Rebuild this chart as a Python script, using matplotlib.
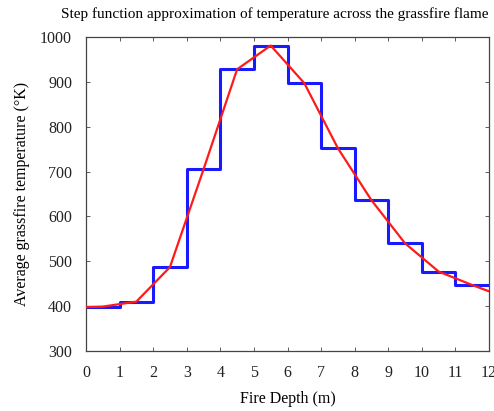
import numpy as np
import matplotlib.pyplot as plt

# step approximation (one value per 1 m slab)
step_edges = [0, 1, 2, 3, 4, 5, 6, 7, 8, 9, 10, 11, 12]
step_temps = [398, 410, 487, 705, 928, 981, 897, 752, 636, 540, 477, 447]

# smooth temperature profile
curve_x = [0, 0.5, 1.5, 2.5, 3.5, 4.5, 5.5, 6.5, 7.5, 8.5, 9.5, 10.5, 11.5, 12]
curve_t = [398, 399, 410, 487, 705, 928, 981, 897, 752, 636, 540, 477, 447, 433]

x_ticks = list(range(0, 13))
y_ticks = [300, 400, 500, 600, 700, 800, 900, 1000]

plt.rcParams['font.family'] = ['Liberation Serif', 'DejaVu Serif']

fig = plt.figure(figsize=(4.94, 4.11), dpi=100)
ax = fig.add_axes([0.174, 0.146, 0.816, 0.764])

ax.step(step_edges, step_temps + [step_temps[-1]], where='post', color='#1a1aff', lw=2.2, zorder=2)
ax.plot(curve_x, curve_t, color='#ff1a1a', lw=1.6, zorder=3)

ax.set_xlim(0, 12)
ax.set_ylim(300, 1000)
ax.set_xticks(x_ticks)
ax.set_yticks(y_ticks)
ax.tick_params(direction='in', length=3, width=0.6, top=True, right=True,
               labelsize=11.5, pad=10, colors='#444444', labelcolor='#222222')
for s in ax.spines.values():
    s.set_linewidth(0.9)
    s.set_color('#444444')

ax.set_xlabel('Fire Depth (m)', fontsize=11.5, labelpad=7)
ax.set_ylabel('Average grassfire temperature (°K)', fontsize=11.5, labelpad=7)
fig.text(0.557, 0.966, 'Step function approximation of temperature across the grassfire flame',
         ha='center', va='center', fontsize=11)

fig.savefig('out.png', dpi=100)
